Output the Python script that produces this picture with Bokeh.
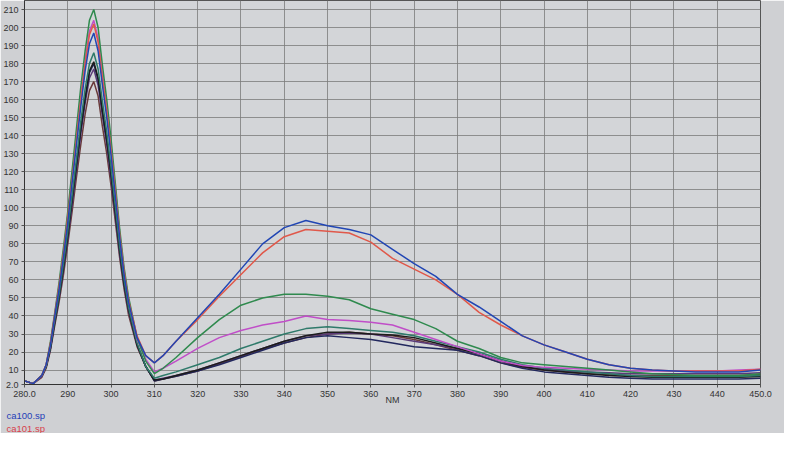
from bokeh.plotting import figure
from bokeh.models import Range1d, FixedTicker, Title
from bokeh.embed import file_html
from bokeh.resources import INLINE

# wavelength grid (nm)
WL = [280, 282, 284, 285, 286, 287, 288, 289, 290, 291, 292, 293, 294, 295, 296,
      297, 298, 299, 300, 301, 302, 303, 304, 306, 308, 310, 312, 315,
      320, 325, 330, 335, 340, 345, 350, 355, 360, 365, 370, 375, 380, 385, 390,
      395, 400, 405, 410, 415, 420, 425, 430, 435, 440, 445, 450]

green = [4, 2.5, 7, 13, 26, 42, 59, 78, 98, 121, 144, 167, 187, 204, 210, 200, 179, 160, 138, 113, 88, 67, 51,
         28, 15, 8, 11, 17,
         28, 38, 46, 50, 52, 52, 51, 49, 44, 41, 38, 33, 26, 22, 17, 14, 13, 12, 11, 10, 9, 8, 7.5, 7, 7, 7, 8]
magenta = [4, 2.5, 7, 13, 25, 41, 57, 75, 96, 118, 140, 162, 182, 198, 204, 194, 174, 156, 134, 110, 85, 65, 49,
           27, 16, 9, 11, 15,
           22, 28, 32, 35, 37, 40, 38, 37.5, 36.5, 35, 31, 27, 23, 19, 15, 12.5, 11.5, 11, 10.5, 10, 9.5, 9.5, 9.5, 9.5, 9.5, 10, 10.5]
red = [4, 2.5, 7, 13, 25, 41, 57, 75, 95, 116, 138, 160, 180, 196, 202, 192, 172, 154, 132, 109, 85, 65, 49,
       29, 18, 14, 18, 26,
       38, 51, 63, 75, 84, 88, 87, 86, 81, 72, 66, 60, 52, 42, 35, 29, 24, 20, 16, 13, 11, 10, 9.5, 9.5, 9.5, 9.5, 10.5]
blue = [4, 2.5, 7, 13, 24, 40, 55, 73, 92, 114, 135, 156, 176, 191, 197, 187, 168, 150, 129, 106, 83, 63, 48,
        28, 18, 14, 18, 26,
        39, 52, 66, 80, 89, 93, 90, 88, 85, 77, 69, 62, 52, 45, 37, 29, 24, 20, 16, 13, 11, 10, 9.5, 9, 9, 9, 10]
teal = [4, 2.5, 7, 12, 23, 38, 52, 69, 87, 107, 127, 148, 166, 180, 186, 177, 159, 142, 122, 100, 78, 60, 45,
        25, 12, 5.5, 7, 9,
        13, 17, 22, 26, 30, 33, 34, 33, 32, 31, 29, 26, 23, 20, 16, 13, 11, 10, 9, 8, 7, 6.5, 6.5, 6.5, 6.5, 6.5, 7]
black = [4, 2.5, 7, 12, 23, 37, 51, 67, 85, 105, 124, 144, 161, 176, 181, 172, 154, 138, 119, 97, 76, 58, 44,
         24, 12, 4.5, 5, 7,
         10, 14, 18, 22, 26, 29, 31, 31, 30, 29.5, 28, 25, 22, 19, 15, 12, 10, 9, 8, 7, 6.5, 6, 6, 6, 6, 6, 6.5]
navy = [4, 2.5, 7, 12, 22, 37, 51, 67, 84, 104, 123, 143, 160, 175, 180, 171, 153, 137, 118, 97, 76, 58, 44,
        24, 12, 4, 5, 6.5,
        9.5, 13, 17, 21, 25, 28, 29, 28, 27, 25, 23, 22, 21, 18, 14, 11, 9, 8, 7, 6, 5.5, 5, 5, 5, 5, 5, 5.5]
purple = [4, 2.5, 6.5, 12, 22, 36, 50, 66, 83, 102, 121, 141, 158, 172, 177, 168, 151, 135, 116, 95, 74, 57, 43,
          24, 12, 4.5, 5.5, 7,
          10, 14, 18, 22, 26, 29, 30, 30.5, 30, 28, 26, 24, 22, 19, 15, 12, 10.5, 9.5, 9, 8.5, 8, 8, 8, 8, 8, 8, 8.5]
brown = [4, 2.5, 6, 11, 21, 35, 48, 63, 80, 98, 117, 135, 152, 165, 170, 162, 145, 130, 112, 92, 72, 55, 41,
         23, 12, 4, 5, 6.5,
         9.5, 13.5, 17.5, 21.5, 25, 28, 30, 31, 30, 29, 27, 24, 21, 18, 14, 11.5, 10, 9, 8, 7.5, 7, 7, 7, 7, 7, 7, 7.5]

SERIES = [
    (brown, "#6a3a3a"), (purple, "#5a3a78"), (navy, "#22285e"), (black, "#1c1c1c"),
    (teal, "#2e7a6a"), (magenta, "#c04ec8"), (green, "#2f8a4e"), (red, "#e0584a"), (blue, "#2146b4"),
]

X_TICKS = [280, 290, 300, 310, 320, 330, 340, 350, 360, 370, 380, 390, 400, 410, 420, 430, 440, 450]
X_LABELS = {280: "280.0", 450: "450.0"}
Y_TICKS = [2, 10, 20, 30, 40, 50, 60, 70, 80, 90, 100, 110, 120, 130, 140, 150, 160, 170, 180, 190, 200, 210]
Y_LABELS = {2: "2.0"}
FILES = [("ca100.sp", "#1f3fb8"), ("ca101.sp", "#d8404a")]

p = figure(width=784, height=433, output_backend="svg", toolbar_location=None,
           x_range=Range1d(280, 450), y_range=Range1d(2, 215),
           min_border_left=0, min_border_right=24, min_border_top=0, min_border_bottom=0)
p.background_fill_color = "#d3d5d8"
p.border_fill_color = "#cfd0d3"
p.outline_line_color = "#555555"

for ys, col in SERIES:
    p.line(WL, ys, line_color=col, line_width=1.5)

p.xgrid.grid_line_color = "#7c7c7c"
p.ygrid.grid_line_color = "#7c7c7c"
p.xgrid.grid_line_alpha = 0.8
p.ygrid.grid_line_alpha = 0.8

p.xaxis.ticker = FixedTicker(ticks=X_TICKS)
p.xaxis.major_label_overrides = X_LABELS
p.yaxis.ticker = FixedTicker(ticks=Y_TICKS)
p.yaxis.major_label_overrides = Y_LABELS
for ax in (p.xaxis[0], p.yaxis[0]):
    ax.major_label_text_font = "Liberation Sans"
    ax.major_label_text_font_size = "9px"
    ax.major_label_text_color = "#333333"
    ax.axis_line_color = "#333333"
    ax.major_tick_line_color = "#555555"
    ax.minor_tick_line_color = None
    ax.major_tick_in = 0
    ax.major_tick_out = 3
    ax.major_label_standoff = 3
p.xaxis.axis_label = "NM"
p.xaxis.axis_label_text_font = "Liberation Sans"
p.xaxis.axis_label_text_font_size = "9px"
p.xaxis.axis_label_text_font_style = "normal"
p.xaxis.axis_label_text_color = "#333333"
p.xaxis.axis_label_standoff = -5

for name, col in FILES:
    p.add_layout(Title(text=name, align="left", text_color=col, text_font="Liberation Sans",
                       text_font_size="9.5px", text_font_style="normal", offset=-18,
                       standoff=0, text_line_height=0.9), "below")

open("out.html", "w").write(file_html(p, INLINE))
